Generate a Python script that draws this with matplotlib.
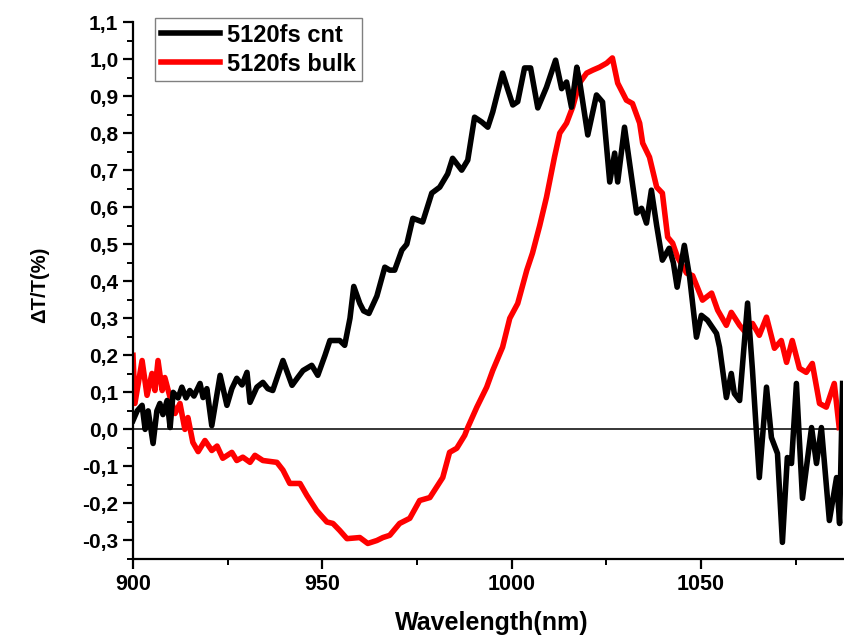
import numpy as np
import matplotlib
matplotlib.use("Agg")
import matplotlib.pyplot as plt
from matplotlib.ticker import MultipleLocator

# 5120fs cnt (black)
cnt_x = [900.0, 901.1, 902.4, 903.2, 904.0, 905.3, 906.3, 907.1, 907.9, 909.0,
         909.8, 910.6, 911.9, 912.9, 914.0, 915.0, 916.1, 917.7, 918.5, 919.5,
         920.8, 923.0, 924.8, 926.1, 927.4, 928.8, 930.1, 930.9, 932.7, 934.3,
         935.6, 936.9, 939.6, 942.0, 943.5, 944.9, 947.2, 948.8, 950.7, 952.0,
         954.6, 955.9, 957.3, 958.3, 959.9, 960.9, 962.3, 964.4, 966.5, 967.8,
         969.1, 971.0, 972.3, 973.9, 975.2, 976.5, 978.9, 981.0, 983.1, 984.4,
         986.8, 988.4, 990.2, 992.1, 993.7, 995.0, 997.6, 998.9, 1000.3, 1001.6,
         1003.4, 1005.0, 1006.9, 1009.2, 1011.6, 1013.2, 1014.5, 1015.8, 1017.2, 1017.9,
         1020.1, 1022.4, 1024.0, 1025.9, 1027.2, 1028.0, 1029.8, 1031.4, 1033.0, 1034.3,
         1035.6, 1036.9, 1038.3, 1039.8, 1041.6, 1042.7, 1043.7, 1045.6, 1047.0, 1048.8,
         1050.1, 1051.7, 1054.1, 1054.9, 1056.7, 1058.0, 1058.8, 1060.2, 1062.3, 1063.6,
         1065.4, 1067.3, 1068.6, 1070.2, 1071.5, 1072.8, 1073.9, 1075.2, 1076.8, 1079.2,
         1080.5, 1081.8, 1083.9, 1085.8, 1086.6, 1087.4]
cnt_y = [0.024, 0.05, 0.065, 0.0, 0.05, -0.038, 0.05, 0.07, 0.04, 0.078,
         0.005, 0.10, 0.085, 0.114, 0.085, 0.105, 0.09, 0.124, 0.086, 0.11,
         0.01, 0.146, 0.065, 0.11, 0.138, 0.12, 0.154, 0.073, 0.114, 0.127,
         0.11, 0.105, 0.186, 0.119, 0.14, 0.159, 0.173, 0.146, 0.20, 0.24,
         0.24, 0.227, 0.30, 0.386, 0.34, 0.32, 0.313, 0.36, 0.438, 0.43,
         0.43, 0.484, 0.50, 0.57, 0.565, 0.56, 0.638, 0.654, 0.69, 0.732,
         0.70, 0.727, 0.843, 0.83, 0.816, 0.857, 0.962, 0.92, 0.876, 0.885,
         0.976, 0.976, 0.868, 0.924, 0.997, 0.92, 0.938, 0.87, 0.978, 0.943,
         0.795, 0.903, 0.884, 0.668, 0.746, 0.668, 0.816, 0.70, 0.584, 0.597,
         0.557, 0.646, 0.55, 0.457, 0.489, 0.45, 0.384, 0.497, 0.411, 0.249,
         0.308, 0.295, 0.259, 0.222, 0.086, 0.151, 0.097, 0.078, 0.341, 0.159,
         -0.13, 0.114, -0.022, -0.065, -0.305, -0.076, -0.092, 0.124, -0.186, 0.005,
         -0.092, 0.005, -0.246, -0.13, -0.254, 0.124]

# 5120fs bulk (red)
bulk_x = [900.0, 900.5, 902.4, 903.7, 905.0, 905.8, 906.6, 907.7, 908.4, 909.8,
          911.1, 912.4, 913.7, 914.5, 915.8, 917.2, 919.0, 920.8, 922.2, 923.7,
          926.1, 927.4, 929.0, 930.9, 932.2, 934.3, 938.0, 939.6, 941.4, 944.1,
          945.9, 948.5, 951.2, 952.8, 954.6, 956.5, 959.9, 962.0, 964.4, 966.0,
          967.8, 970.4, 973.1, 975.7, 978.4, 981.8, 983.6, 985.5, 987.6, 988.4,
          990.8, 993.4, 995.0, 997.6, 999.5, 1001.6, 1004.0, 1005.5, 1007.4, 1009.2,
          1011.3, 1012.7, 1014.5, 1016.1, 1017.9, 1019.8, 1021.4, 1023.2, 1025.1, 1026.6,
          1028.0, 1030.3, 1031.9, 1033.8, 1034.6, 1036.4, 1038.3, 1039.8, 1041.2, 1042.5,
          1043.8, 1046.2, 1047.8, 1050.4, 1052.8, 1054.4, 1056.7, 1058.0, 1060.2, 1062.0,
          1063.6, 1065.4, 1067.3, 1069.4, 1071.2, 1072.6, 1074.1, 1076.0, 1077.8, 1079.4,
          1081.3, 1083.1, 1085.2, 1086.5]
bulk_y = [0.20, 0.07, 0.186, 0.092, 0.151, 0.105, 0.186, 0.105, 0.14, 0.086,
          0.043, 0.07, 0.0, 0.032, -0.035, -0.06, -0.03, -0.057, -0.045, -0.078,
          -0.062, -0.084, -0.075, -0.089, -0.07, -0.084, -0.089, -0.11, -0.146, -0.146,
          -0.178, -0.219, -0.25, -0.254, -0.273, -0.295, -0.292, -0.308, -0.30, -0.292,
          -0.286, -0.254, -0.24, -0.192, -0.184, -0.13, -0.062, -0.051, -0.016, 0.005,
          0.06, 0.114, 0.159, 0.222, 0.30, 0.34, 0.43, 0.476, 0.55, 0.627,
          0.735, 0.80, 0.827, 0.87, 0.935, 0.962, 0.97, 0.978, 0.989, 1.003,
          0.935, 0.889, 0.88, 0.827, 0.773, 0.735, 0.654, 0.638, 0.519, 0.503,
          0.465, 0.422, 0.415, 0.349, 0.368, 0.322, 0.281, 0.316, 0.281, 0.259,
          0.286, 0.254, 0.303, 0.219, 0.24, 0.181, 0.24, 0.165, 0.154, 0.178,
          0.07, 0.06, 0.124, 0.005]

y_ticks = [-0.3, -0.2, -0.1, 0.0, 0.1, 0.2, 0.3, 0.4, 0.5, 0.6, 0.7, 0.8, 0.9, 1.0, 1.1]
y_labels = ["-0,3", "-0,2", "-0,1", "0,0", "0,1", "0,2", "0,3", "0,4", "0,5",
            "0,6", "0,7", "0,8", "0,9", "1,0", "1,1"]
x_ticks = [900, 950, 1000, 1050]

plt.rcParams['font.family'] = ['Liberation Sans', 'DejaVu Sans']
plt.rcParams['font.weight'] = 'bold'

fig = plt.figure(figsize=(8.44, 6.38), dpi=100)
ax = fig.add_axes([0.1576, 0.1238, 0.8412, 0.8417])

ax.axhline(0, color='black', linewidth=1.1, zorder=1)
ax.plot(cnt_x, cnt_y, color='black', linewidth=4, label='5120fs cnt', zorder=3)
ax.plot(bulk_x, bulk_y, color='#ff0000', linewidth=4, label='5120fs bulk', zorder=2)

ax.set_xlim(900, 1087.5)
ax.set_ylim(-0.35, 1.1)

ax.set_xticks(x_ticks)
ax.xaxis.set_minor_locator(MultipleLocator(25))
ax.set_yticks(y_ticks)
ax.set_yticklabels(y_labels)
ax.yaxis.set_minor_locator(MultipleLocator(0.05))

for s in ['top', 'right']:
    ax.spines[s].set_visible(False)
for s in ['left', 'bottom']:
    ax.spines[s].set_linewidth(1.6)

ax.tick_params(which='major', direction='out', length=7, width=1.6)
ax.tick_params(which='minor', direction='out', length=4, width=1.4)
ax.tick_params(axis='x', labelsize=15.5)
ax.tick_params(axis='y', labelsize=15)
for lab in ax.get_xticklabels() + ax.get_yticklabels():
    lab.set_fontweight('bold')

ax.set_xlabel('Wavelength(nm)', fontsize=18, fontweight='bold')
ax.xaxis.set_label_coords(0.506, -0.097)
ax.set_ylabel('ΔT/T(%)', fontsize=14.5, fontweight='bold')
ax.yaxis.set_label_coords(-0.118, 0.51)

leg = ax.legend(loc='upper left', bbox_to_anchor=(0.031, 1.008), borderaxespad=0,
                fancybox=False, framealpha=1, edgecolor='#808080',
                prop={'size': 17, 'weight': 'bold'}, handlelength=2.5,
                handletextpad=0.3, borderpad=0.25, labelspacing=0.25)
leg.get_frame().set_linewidth(1.0)

fig.savefig('out.png', dpi=100)
